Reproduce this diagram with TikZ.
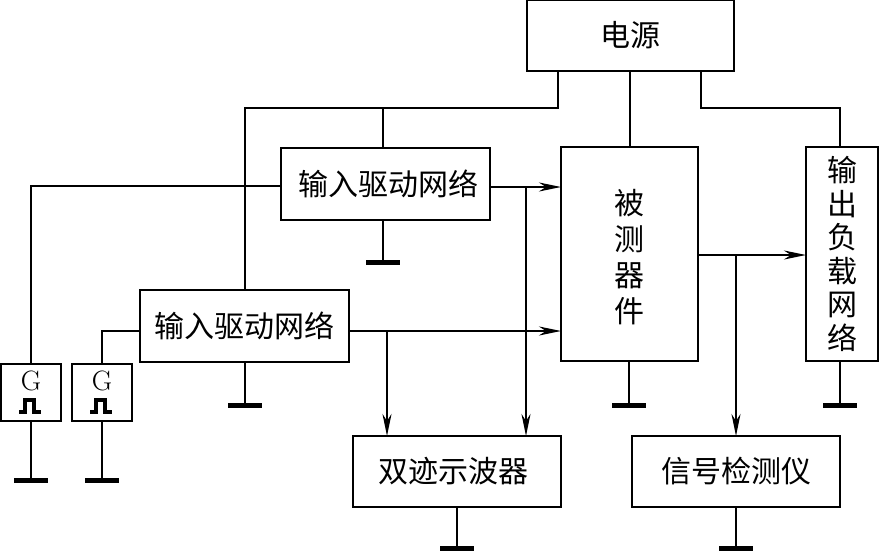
\documentclass[tikz,border=0pt]{standalone}
\usepackage{fontspec}
\newfontfamily\cjk{Noto Sans CJK SC}
\usetikzlibrary{positioning,arrows.meta}

\tikzset{
	block/.style={draw, line width=2.2pt, inner sep=0pt, outer sep=0pt, align=center,
		font=\cjk\fontsize{30}{33.5}\selectfont},
	widebox/.style={block, minimum width=209pt, minimum height=72pt},
	genbox/.style={draw, line width=2.2pt, inner sep=0pt, outer sep=0pt, minimum width=60pt, minimum height=57pt},
	genlabel/.style={font=\fontsize{28}{28}\selectfont, inner sep=0pt},
	gndbar/.style={fill=black, inner sep=0pt, outer sep=0pt, minimum width=34pt, minimum height=5pt},
	wire/.style={line width=2.2pt},
	arrowwire/.style={wire, -{Stealth[length=22pt,width=9pt,inset=7pt]}}
}

\begin{document}
\begin{tikzpicture}[x=1pt, y=-1pt]
		\useasboundingbox (0,0) rectangle (879,551);

		\node[widebox, minimum width=207pt, minimum height=71pt] (power) at (630.5,35.5) {电源};
		\node[widebox] (drvA) at (385.5,184) {\hspace*{6pt}输入驱动网络};
		\node[widebox] (drvB) at (244.5,326) {输入驱动网络};
		\node[block, minimum width=137pt, minimum height=214pt, font=\cjk\fontsize{30}{36}\selectfont] (dut) at (629.5,254) {\rule{0pt}{32pt}被\\测\\器\\件};
		\node[block, minimum width=72pt, minimum height=214pt] (load) at (842,254) {输\\出\\负\\载\\网\\络};
		\node[widebox, minimum width=208pt, minimum height=71pt] (scope) at (457,471.5) {双迹示波器\hspace*{8pt}};
		\node[widebox, minimum width=208pt, minimum height=71pt] (detect) at (736,471.5) {信号检测仪};

		\node[genbox] (genA) at (31,392.5) {};
		\node[genbox] (genB) at (102,392.5) {};
		\node[genlabel] (labelA) at (31,381) {G};
		\node[genlabel] (labelB) at (102,381) {G};

		\node[gndbar] (gndA) at (383,262.5) {};
		\node[gndbar] (gndB) at (245,405) {};
		\node[gndbar] (gndDut) at (629,405) {};
		\node[gndbar] (gndLoad) at (840,405) {};
		\node[gndbar] (gndGenA) at (31,480) {};
		\node[gndbar] (gndGenB) at (102,480) {};
		\node[gndbar] (gndScope) at (457,548) {};
		\node[gndbar] (gndDetect) at (736,548) {};

		% supply
		\coordinate (supL) at (558,108);
		\coordinate (supM) at (630,108);
		\coordinate (supR) at (701,108);
		\coordinate (supA) at (383,108);
		\draw[wire] (power.south -| supL) -- (supL) -| (drvB.north -| gndB);
		\draw[wire] (supA) -- (drvA.north -| gndA);
		\draw[wire] (power.south -| supM) -- (dut.north -| supM);
		\draw[wire] (power.south -| supR) -- (supR) -| (load.north -| gndLoad);

		% generators
		\draw[wire] (drvA.west |- 0,186) -| (genA.north);
		\draw[wire] (drvB.west |- 0,331) -| (genB.north);
		\foreach \gen in {genA,genB}
			\draw[line width=3.4pt] ([xshift=-12pt,yshift=9pt]\gen.south) -- ++(6,0) -- ++(0,-12) -- ++(9,0) -- ++(0,12) -- ++(7,0);

		% signals
		\coordinate (tapA) at (526,187);
		\coordinate (tapB) at (387,331);
		\coordinate (tapOut) at (736,255);
		\draw[arrowwire] (drvA.east |- tapA) -- (dut.west |- tapA);
		\draw[arrowwire] (drvB.east |- tapB) -- (dut.west |- tapB);
		\draw[arrowwire] (dut.east |- tapOut) -- (load.west |- tapOut);
		\draw[arrowwire] (tapA) -- (scope.north -| tapA);
		\draw[arrowwire] (tapB) -- (scope.north -| tapB);
		\draw[arrowwire] (tapOut) -- (detect.north);

		% grounds
		\draw[wire] (drvA.south -| gndA) -- (gndA);
		\draw[wire] (drvB.south -| gndB) -- (gndB);
		\draw[wire] (dut.south -| gndDut) -- (gndDut);
		\draw[wire] (load.south -| gndLoad) -- (gndLoad);
		\draw[wire] (genA.south) -- (gndGenA);
		\draw[wire] (genB.south) -- (gndGenB);
		\draw[wire] (scope.south) -- (gndScope);
		\draw[wire] (detect.south) -- (gndDetect);
	\end{tikzpicture}
\end{document}
